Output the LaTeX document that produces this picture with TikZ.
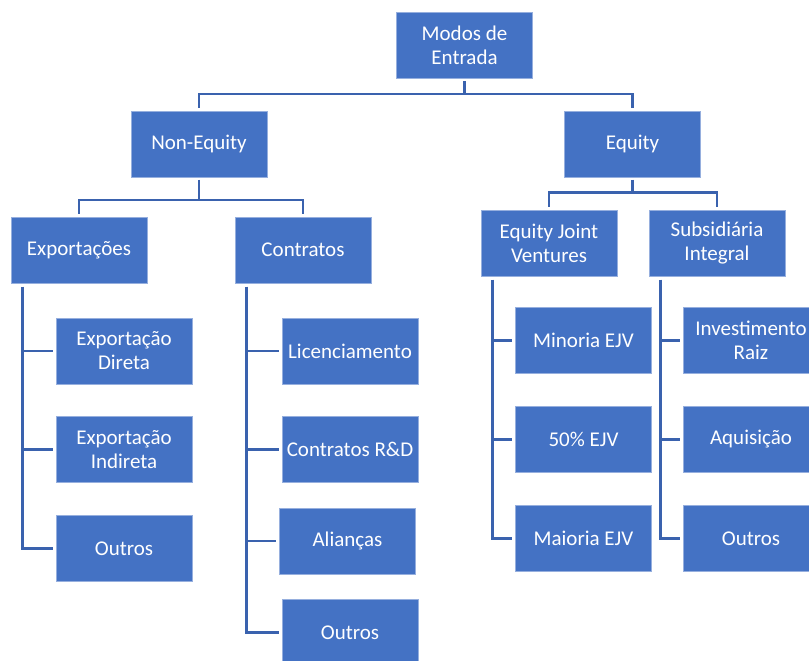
\documentclass[tikz,border=0pt]{standalone}
\usepackage{fontspec}
\setmainfont{Carlito}
\definecolor{boxblue}{RGB}{68,114,196}
\definecolor{boxedge}{RGB}{150,175,222}
\definecolor{linkblue}{RGB}{58,98,174}
\begin{document}
\begin{tikzpicture}[x=1pt,y=-1pt,
  orgbox/.style={rectangle, fill=boxblue, draw=boxedge, line width=0.7pt,
    minimum width=136pt, minimum height=66pt, inner sep=2pt,
    text=white, align=center, font=\fontsize{21}{24}\selectfont},
  link/.style={draw=linkblue, line width=2.6pt, shorten <=2.5pt, shorten >=3pt}]
\useasboundingbox (0,0) rectangle (809,661);
% nodes
\node[orgbox] (top) at (464.5,45.5) {Modos de\\Entrada};
\node[orgbox] (ne)  at (199,144) {Non-Equity};
\node[orgbox] (eq)  at (632.5,144) {Equity};
\node[orgbox] (exp) at (79,250) {Exportações};
\node[orgbox] (con) at (303,250) {Contratos};
\node[orgbox] (ejv) at (549,243) {Equity Joint\\Ventures};
\node[orgbox] (sub) at (717,243) {Subsidiária\\Integral};
\node[orgbox] (ed)  at (124,351) {Exportação\\Direta};
\node[orgbox] (ei)  at (124,449.5) {Exportação\\Indireta};
\node[orgbox] (oa)  at (124,548.5) {Outros};
\node[orgbox] (lic) at (350,351) {Licenciamento};
\node[orgbox] (crd) at (350,449.5) {Contratos R\&D};
\node[orgbox] (ali) at (347.5,541) {Alianças};
\node[orgbox] (ob)  at (350,632.5) {Outros};
\node[orgbox] (min) at (583.5,340.5) {Minoria EJV};
\node[orgbox] (cin) at (583.5,439.5) {50\% EJV};
\node[orgbox] (mai) at (583.5,538.5) {Maioria EJV};
\node[orgbox] (inv) at (751,340.5) {Investimento\\Raiz};
\node[orgbox] (aqu) at (751,439.5) {Aquisição};
\node[orgbox] (oc)  at (751,538.5) {Outros};
% top level
\draw[link] (top.south) -- ++(0,15) -| (ne.north);
\draw[link] (top.south) -- ++(0,15) -| (eq.north);
\draw[link] (ne.south) -- ++(0,22.5) -| (exp.north);
\draw[link] (ne.south) -- ++(0,22.5) -| (con.north);
\draw[link] (eq.south) -- ++(0,15) -| (ejv.north);
\draw[link] (eq.south) -- ++(0,15) -| (sub.north);
% side branches
\foreach \p/\c in {exp/ed, exp/ei, exp/oa, con/lic, con/crd, con/ali, con/ob,
                   ejv/min, ejv/cin, ejv/mai, sub/inv, sub/aqu, sub/oc}
  \draw[link, shorten <=3.5pt] ([xshift=12pt]\p.south west) |- (\c.west);
\end{tikzpicture}
\end{document}
